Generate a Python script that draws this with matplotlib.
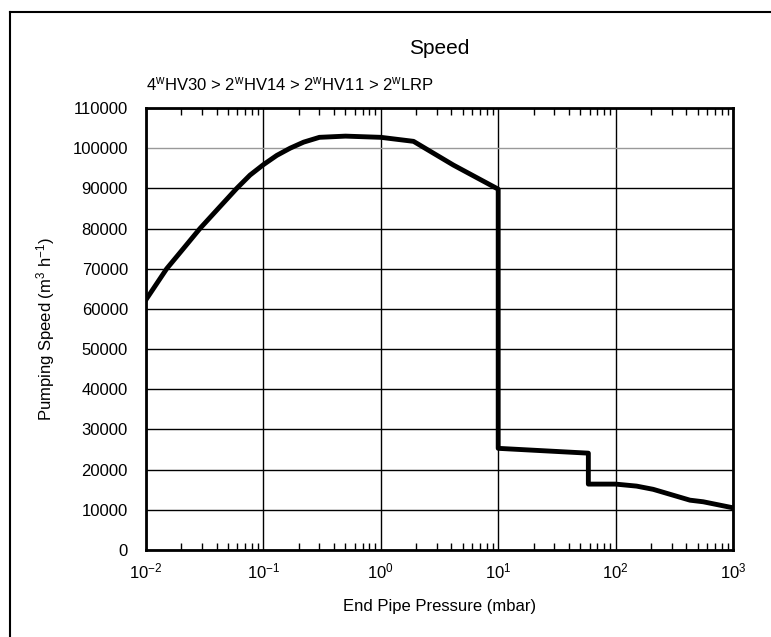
import numpy as np
import matplotlib
matplotlib.use('Agg')
import matplotlib.pyplot as plt
from matplotlib.lines import Line2D
from matplotlib.ticker import LogLocator, NullFormatter

plt.rcParams['font.family'] = ['Liberation Sans', 'DejaVu Sans']
plt.rcParams['mathtext.fontset'] = 'custom'
plt.rcParams['mathtext.rm'] = 'Liberation Sans'
plt.rcParams['mathtext.it'] = 'Liberation Sans'

# End pipe pressure (mbar) and pumping speed (m3/h)
pressure = [0.01, 0.015, 0.0208, 0.0288, 0.0413, 0.0593, 0.0769, 0.1, 0.13, 0.169,
            0.22, 0.3, 0.5, 1.0, 1.9, 4.15, 10.0, 10.0, 58.6, 58.6, 100, 151, 209,
            430, 558, 1000]
speed = [62300, 70000, 75000, 80000, 85000, 90000, 93300, 95900, 98200, 100000,
         101500, 102700, 103000, 102700, 101700, 95800, 89800, 25300, 24100, 16400,
         16400, 15900, 15100, 12400, 12000, 10500]

y_ticks = list(range(0, 110001, 10000))
title = 'Speed'
subtitle = r'4$^{\rm w}$HV30 > 2$^{\rm w}$HV14 > 2$^{\rm w}$HV11 > 2$^{\rm w}$LRP'

fig = plt.figure(figsize=(7.71, 6.37), dpi=100)
ax = fig.add_axes([146 / 771, 1 - 550 / 637, (733 - 146) / 771, (550 - 108) / 637])

ax.plot(pressure, speed, color='black', lw=3.5, solid_joinstyle='round')

ax.set_xscale('log')
ax.set_xlim(0.01, 1000)
ax.set_ylim(0, 110000)
ax.set_yticks(y_ticks)
ax.set_yticklabels([str(v) for v in y_ticks])
ax.xaxis.set_minor_locator(LogLocator(base=10, subs=np.arange(2, 10)))
ax.xaxis.set_minor_formatter(NullFormatter())

ax.tick_params(axis='both', which='major', direction='in', length=0, labelsize=12)
ax.tick_params(axis='y', which='major', pad=13)
ax.tick_params(axis='x', which='major', pad=8)
ax.tick_params(axis='x', which='minor', direction='in', length=5, width=1,
               top=True, bottom=True)

ax.grid(True, which='major', color='black', lw=1)
# the 100000 line is drawn grey in the original
ax.yaxis.get_gridlines()[10].set_color('#999999')

for sp in ax.spines.values():
    sp.set_linewidth(2)

ax.set_xlabel('End Pipe Pressure (mbar)', fontsize=12, labelpad=13)
ax.set_ylabel(r'Pumping Speed (m$^3$ h$^{-1}$)', fontsize=12, labelpad=11)

fig.text((146 + 733) / 2 / 771, 1 - 49 / 637, title, ha='center', va='center',
         fontsize=15)
fig.text(146 / 771, 1 - 84 / 637, subtitle, ha='left', va='center', fontsize=12)

# outer frame (only top and left edges visible)
fx, fy = 9.5 / 771, 1 - 12 / 637
fig.add_artist(Line2D([fx, fx], [0, fy], color='black', lw=1.5, transform=fig.transFigure))
fig.add_artist(Line2D([fx, 1], [fy, fy], color='black', lw=1.5, transform=fig.transFigure))

fig.savefig('out.png', dpi=100)
